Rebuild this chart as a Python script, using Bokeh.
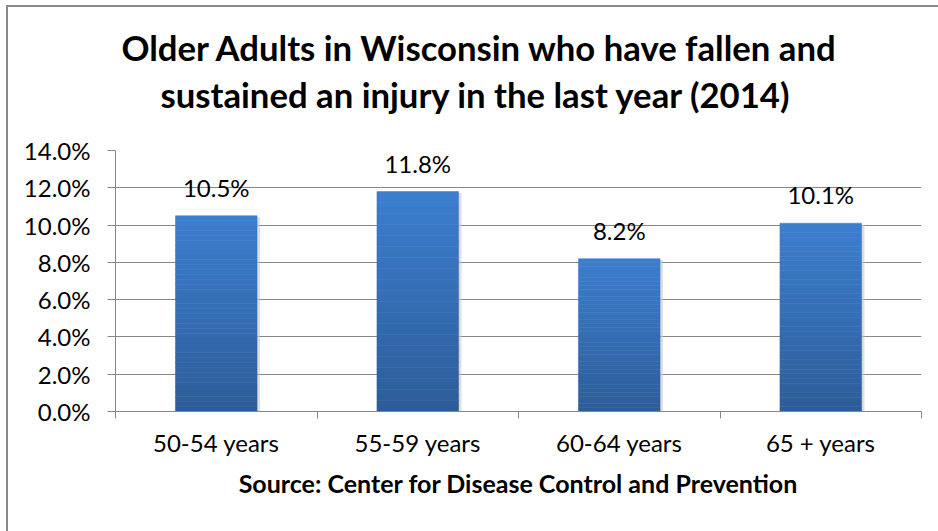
from bokeh.plotting import figure
from bokeh.models import (Title, FixedTicker, PrintfTickFormatter, ColumnDataSource,
                          LabelSet, Range1d)
from bokeh.core.properties import value
from bokeh.embed import file_html
from bokeh.resources import INLINE

categories = ["50-54 years", "55-59 years", "60-64 years", "65 + years"]
values = [10.5, 11.8, 8.2, 10.1]
y_ticks = [0, 2, 4, 6, 8, 10, 12, 14]
title_lines = ["Older Adults in Wisconsin who have fallen and",
               "sustained an injury in the last year (2014)"]
x_title = "Source: Center for Disease Control and Prevention"

FONT = "Lato"
GRAY = "#878787"
TOP = (60, 126, 206)
BOTTOM = (45, 93, 153)

p = figure(width=932, height=526, output_backend="svg", toolbar_location=None,
           x_range=Range1d(0, len(categories)), y_range=Range1d(0, 14),
           min_border_left=107, min_border_right=19, min_border_top=143,
           min_border_bottom=122, title=None)
p.margin = (5, 0, 0, 6)
p.styles = {"border-top": "2px solid #8a8a8a", "border-left": "2px solid #8a8a8a"}
p.outline_line_color = None
p.background_fill_color = "white"
p.border_fill_color = "white"

t2 = Title(text=title_lines[1], align="left", text_font=FONT, text_font_size="34.7px",
           text_font_style="bold", text_color="black", standoff=72, offset=45)
t1 = Title(text=title_lines[0], align="left", text_font=FONT, text_font_size="34.7px",
           text_font_style="bold", text_color="black", standoff=-64, offset=6)
p.add_layout(t2, "above")
p.add_layout(t1, "above")

# gradient bars drawn as stacked slices of each bar
N = 40
xs, bots, tops, cols = [], [], [], []
for i, v in enumerate(values):
    for k in range(N):
        f = k / (N - 1)
        c = tuple(int(round(BOTTOM[j] + (TOP[j] - BOTTOM[j]) * f)) for j in range(3))
        xs.append(i + 0.5)
        bots.append(v * k / N)
        tops.append(v * (k + 1) / N)
        cols.append("#%02x%02x%02x" % c)
# soft shadow
p.vbar(x=[i + 0.5 + 0.012 for i in range(len(values))], top=[v - 0.08 for v in values],
       bottom=-0.12, width=0.41, fill_color="#c8c8c8", line_color=None, fill_alpha=0.6)
p.vbar(x=xs, bottom=bots, top=tops, width=0.405, fill_color=cols, line_color=cols,
       line_width=0.5)

src = ColumnDataSource(dict(x=[i + 0.5 for i in range(len(values))], y=values,
                            t=["%.1f%%" % v for v in values]))
p.add_layout(LabelSet(x="x", y="y", text="t", source=src, text_align="center",
                      text_baseline="alphabetic", y_offset=19, text_font=value(FONT),
                      text_font_size=value("24px"), text_color="black"))

# y axis
p.yaxis.ticker = FixedTicker(ticks=y_ticks, minor_ticks=[])
p.yaxis.formatter = PrintfTickFormatter(format="%.1f%%")
p.yaxis.axis_line_color = GRAY
p.yaxis.major_tick_line_color = GRAY
p.yaxis.major_tick_out = 8
p.yaxis.major_tick_in = 0
p.yaxis.major_label_standoff = 17
p.yaxis.major_label_text_font = FONT
p.yaxis.major_label_text_font_size = "24px"
p.yaxis.major_label_text_color = "black"
p.ygrid.ticker = FixedTicker(ticks=y_ticks)
p.ygrid.grid_line_color = GRAY
p.ygrid.grid_line_width = 1
p.xgrid.grid_line_color = None

# x axis
centers = [i + 0.5 for i in range(len(categories))]
p.xaxis.ticker = FixedTicker(ticks=centers, minor_ticks=list(range(len(categories) + 1)))
p.xaxis.major_label_overrides = {c: lab for c, lab in zip(centers, categories)}
p.xaxis.axis_line_color = GRAY
p.xaxis.major_tick_line_color = None
p.xaxis.major_tick_out = 0
p.xaxis.major_tick_in = 0
p.xaxis.minor_tick_line_color = GRAY
p.xaxis.minor_tick_out = 7
p.xaxis.minor_tick_in = 0
p.xaxis.major_label_standoff = 9
p.xaxis.major_label_text_font = FONT
p.xaxis.major_label_text_font_size = "24px"
p.xaxis.major_label_text_color = "black"
p.xaxis.axis_label = x_title
p.xaxis.axis_label_text_font = FONT
p.xaxis.axis_label_text_font_size = "25px"
p.xaxis.axis_label_text_font_style = "bold"
p.xaxis.axis_label_text_color = "black"
p.xaxis.axis_label_standoff = 8

open("out.html", "w").write(file_html(p, INLINE))
